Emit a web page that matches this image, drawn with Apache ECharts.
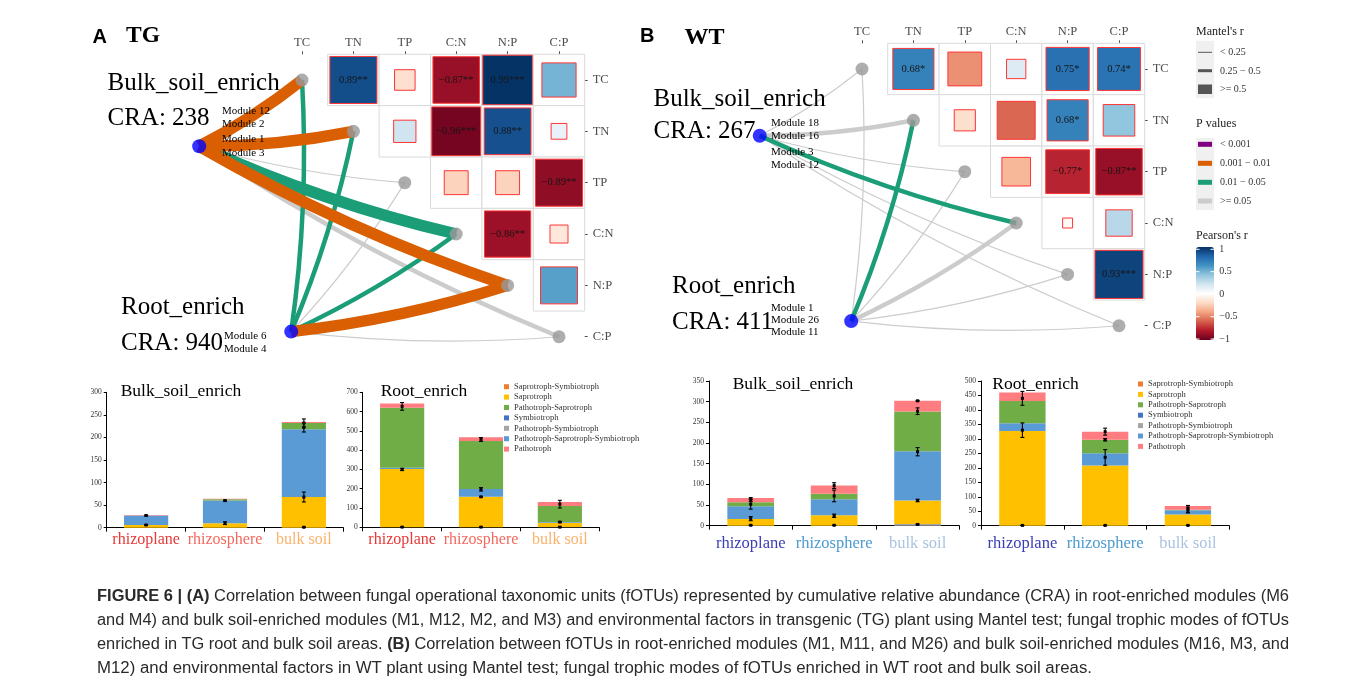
<!DOCTYPE html>
<html><head><meta charset="utf-8">
<script src="https://cdn.jsdelivr.net/npm/echarts@6.0.0/dist/echarts.min.js"></script>
<style>
html,body{margin:0;padding:0;background:#fff;}
#chart{position:absolute;left:0;top:0;width:1357px;height:695px;}
.cap{position:absolute;left:97px;white-space:nowrap;font-family:"Liberation Sans",Arial,sans-serif;font-size:16px;color:#2a2a2a;transform-origin:0 50%;line-height:20px;}
</style></head><body>
<div id="chart"></div>
<div id="caption"></div>
<script>
// ---------------- DATA ----------------
const factors = ['TC','TN','TP','C:N','N:P','C:P'];
// Pearson's r between environmental factors: [row, column, r, significance]
const pearsonTG = [
  ['TC','TN',0.89,'**'], ['TC','TP',-0.17,''], ['TC','C:N',-0.87,'**'], ['TC','N:P',0.99,'***'], ['TC','C:P',0.47,''],
  ['TN','TP',0.20,''], ['TN','C:N',-0.96,'***'], ['TN','N:P',0.88,'**'], ['TN','C:P',0.10,''],
  ['TP','C:N',-0.23,''], ['TP','N:P',-0.23,''], ['TP','C:P',-0.89,'**'],
  ['C:N','N:P',-0.86,'**'], ['C:N','C:P',-0.13,''],
  ['N:P','C:P',0.55,'']
];
const pearsonWT = [
  ['TC','TN',0.68,'*'], ['TC','TP',-0.46,''], ['TC','C:N',0.15,''], ['TC','N:P',0.75,'*'], ['TC','C:P',0.74,'*'],
  ['TN','TP',-0.18,''], ['TN','C:N',-0.58,''], ['TN','N:P',0.68,'*'], ['TN','C:P',0.40,''],
  ['TP','C:N',-0.33,''], ['TP','N:P',-0.77,'*'], ['TP','C:P',-0.87,'**'],
  ['C:N','N:P',-0.04,''], ['C:N','C:P',0.28,''],
  ['N:P','C:P',0.93,'***']
];
// Mantel test: [module group, factor, Mantel's r, p value]
const mantelTG = [
  ['Bulk_soil_enrich','TC',0.56,0.004], ['Bulk_soil_enrich','TN',0.55,0.006], ['Bulk_soil_enrich','TP',0.12,0.30],
  ['Bulk_soil_enrich','C:N',0.58,0.02], ['Bulk_soil_enrich','N:P',0.57,0.005], ['Bulk_soil_enrich','C:P',0.32,0.08],
  ['Root_enrich','TC',0.35,0.03], ['Root_enrich','TN',0.34,0.04], ['Root_enrich','TP',0.10,0.45],
  ['Root_enrich','C:N',0.36,0.02], ['Root_enrich','N:P',0.60,0.003], ['Root_enrich','C:P',0.08,0.60]
];
const mantelWT = [
  ['Bulk_soil_enrich','TC',0.10,0.40], ['Bulk_soil_enrich','TN',0.30,0.08], ['Bulk_soil_enrich','TP',0.10,0.50],
  ['Bulk_soil_enrich','C:N',0.35,0.03], ['Bulk_soil_enrich','N:P',0.06,0.70], ['Bulk_soil_enrich','C:P',0.08,0.60],
  ['Root_enrich','TC',0.10,0.50], ['Root_enrich','TN',0.38,0.02], ['Root_enrich','TP',0.10,0.40],
  ['Root_enrich','C:N',0.32,0.10], ['Root_enrich','N:P',0.12,0.30], ['Root_enrich','C:P',0.05,0.70]
];
const groupsTG = [
  {name:'Bulk_soil_enrich', cra:238, modules:['Module 12','Module 2','Module 1','Module 3']},
  {name:'Root_enrich', cra:940, modules:['Module 6','Module 4']}
];
const groupsWT = [
  {name:'Bulk_soil_enrich', cra:267, modules:['Module 18','Module 16','Module 3','Module 12']},
  {name:'Root_enrich', cra:411, modules:['Module 1','Module 26','Module 11']}
];
const sites = ['rhizoplane','rhizosphere','bulk soil'];
const trophicModes = ['Saprotroph-Symbiotroph','Saprotroph','Pathotroph-Saprotroph','Symbiotroph','Pathotroph-Symbiotroph','Pathotroph-Saprotroph-Symbiotroph','Pathotroph'];
// values per trophic mode (same order as trophicModes), per site
const tgBulkValues = [[0,0,0],[6,10,68],[0,3,14],[0,0,0],[0,0,0],[21,50,150],[1,1,2]];
const tgRootValues = [[0,0,0],[302,158,22],[311,249,82],[0,0,0],[0,0,2],[7,40,4],[22,20,21]];
const wtBulkValues = [[0,0,0],[16,25,57],[10,13,96],[0,0,0],[0,0,4],[31,39,119],[10,20,26]];
const wtRootValues = [[0,0,0],[327,208,39],[77,47,2],[0,0,0],[0,0,0],[27,42,14],[29,28,13]];
// error bars: [site index, centre, half-width]
const tgBulkErrors = [[0,6,1],[0,27,1],[1,10,3],[1,60,1],[2,1,0.5],[2,68,11],[2,222,10],[2,232,9]];
const tgRootErrors = [[0,1,0],[0,300,6],[0,627,20],[1,1,0],[1,158,2],[1,197,9],[1,455,10],[2,1,0],[2,27,2],[2,120,20]];
const wtBulkErrors = [[0,1,0],[0,17,5],[0,52,12],[0,63,5],[1,1,0],[1,24,4],[1,72,14],[1,97,7],[2,3,1],[2,61,3],[2,179,10],[2,277,8],[2,302,1]];
const wtRootErrors = [[0,1,0],[0,330,25],[0,440,24],[1,1,0],[1,236,27],[1,297,4],[1,325,12],[2,1,0],[2,54,10],[2,58,12]];
const yTicksPearson = ['1','0.5','0','\u22120.5','\u22121'];

// ---------------- LAYOUT / STYLE ----------------
const SERIF = '"Liberation Serif", "Times New Roman", serif';
const nodePosTG = {'Bulk_soil_enrich':[-2.0,1.29], 'Root_enrich':[-0.21,4.9]};
const nodePosWT = {'Bulk_soil_enrich':[-1.99,1.30], 'Root_enrich':[-0.21,4.91]};
const RdBu = ['#67001f','#b2182b','#d6604d','#f4a582','#fddbc7','#ffffff','#d1e5f0','#92c5de','#4393c3','#2166ac','#053061'];
const modeColors = ['#ED7D31','#FFC000','#70AD47','#4472C4','#A5A5A5','#5B9BD5','#FF7C80'];
const stackOrder = [4,1,3,5,2,6,0];
const pColors = ['#800080','#d95f02','#1b9e77','#cccccc'];
function pColor(p){ return p<0.001?pColors[0]:p<0.01?pColors[1]:p<0.05?pColors[2]:pColors[3]; }
function rWidth(r){ return r<0.25?1.2:r<0.5?4.5:11.5; }
function fmt(r){ return (r<0?'\u2212':'') + Math.abs(r).toFixed(2); }

const chart = echarts.init(document.getElementById('chart'), null, {renderer:'canvas'});

const grids = [
  {left:276.3, top:54.3, width:308.4, height:308.1},   // 0 heat TG
  {left:70.7, top:54.3, width:514, height:308.1},      // 1 net TG
  {left:836.3, top:43.3, width:308.4, height:308.1},   // 2 heat WT
  {left:630.7, top:43.3, width:514, height:308.1},     // 3 net WT
  {left:106.7, top:392.3, width:236.6, height:135.4},  // 4 bar TG bulk
  {left:362.7, top:392.3, width:236.6, height:135},    // 5 bar TG root
  {left:709, top:381, width:250.3, height:144.7},      // 6 bar WT bulk
  {left:981, top:381, width:248.3, height:144.7}       // 7 bar WT root
];
const xAxes = [], yAxes = [];
function heatAxes(g){
  xAxes.push({gridIndex:g, type:'category', data:factors, position:'top',
    axisLine:{show:false}, axisTick:{show:true, length:3, alignWithLabel:true, lineStyle:{color:'#4d4d4d'}},
    axisLabel:{margin:5, interval:0, fontFamily:SERIF, fontSize:12.5, color:'#4d4d4d'}});
  yAxes.push({gridIndex:g, type:'category', data:factors, position:'right', inverse:true,
    axisLine:{show:false}, axisTick:{show:true, length:3, alignWithLabel:true, lineStyle:{color:'#4d4d4d'}},
    axisLabel:{margin:8, interval:0, fontFamily:SERIF, fontSize:12.5, color:'#4d4d4d'}});
}
function netAxes(g){
  xAxes.push({gridIndex:g, type:'value', min:-4.5, max:5.5, show:false});
  yAxes.push({gridIndex:g, type:'value', min:-0.5, max:5.5, inverse:true, show:false});
}
function barAxes(g, max, interval, colors, labMargin, fs){
  xAxes.push({gridIndex:g, type:'category', data:sites,
    axisLine:{lineStyle:{color:'#000', width:1}}, axisTick:{show:true, length:4, lineStyle:{color:'#000'}},
    axisLabel:{margin:labMargin, interval:0, hideOverlap:false, fontFamily:SERIF, fontSize:fs,
      color:(v,i)=>colors[sites.indexOf(v)]}});
  yAxes.push({gridIndex:g, type:'value', min:0, max:max, interval:interval,
    axisLine:{show:true, lineStyle:{color:'#000', width:1}}, axisTick:{show:true, length:3, lineStyle:{color:'#000'}},
    splitLine:{show:false}, axisLabel:{margin:5, fontFamily:SERIF, fontSize:7.5, color:'#333'}});
}
heatAxes(0); netAxes(1); heatAxes(2); netAxes(3);
const colA = ['#e53935','#f26a5f','#f9b26b'];
const colB = ['#3a3db3','#4b9bd0','#a9c3e0'];
barAxes(4, 300, 50, colA, 4, 16); barAxes(5, 700, 100, colA, 4, 16);
barAxes(6, 350, 50, colB, 9, 16.5); barAxes(7, 500, 50, colB, 9, 16.5);

const series = [];
function heatSeries(arr, ai){
  series.push({type:'custom', xAxisIndex:ai, yAxisIndex:ai, z:3, silent:true,
    data: arr.map(d => [factors.indexOf(d[1]), factors.indexOf(d[0]), d[2]]),
    encode:{x:0, y:1},
    renderItem(params, api){
      const r = api.value(2);
      const c = api.coord([api.value(0), api.value(1)]);
      const s = api.size([1,1]);
      const w = s[0], h = s[1];
      const side = w * Math.sqrt(Math.abs(r)) * 0.97;
      const st = arr[params.dataIndex][3];
      const ch = [
        {type:'rect', shape:{x:c[0]-w/2, y:c[1]-h/2, width:w, height:h}, style:{fill:'#fff', stroke:'#dadada', lineWidth:1}},
        {type:'rect', shape:{x:c[0]-side/2, y:c[1]-side/2, width:side, height:side}, style:{fill:api.visual('color'), stroke:'#ff3535', lineWidth:1}}
      ];
      if (st) ch.push({type:'text', x:c[0], y:c[1], style:{text:fmt(r)+st, align:'center', verticalAlign:'middle', textAlign:'center', textVerticalAlign:'middle', font:'10.5px ' + SERIF, fill:'#151515'}});
      return {type:'group', children:ch};
    }});
  return series.length - 1;
}
function netSeries(mantel, groups, pos, ai){
  const sorted = mantel.slice().sort((a,b)=>b[3]-a[3]);
  series.push({type:'lines', coordinateSystem:'cartesian2d', xAxisIndex:ai, yAxisIndex:ai, z:2, silent:true,
    data: sorted.map(d => { const fi = factors.indexOf(d[1]);
      return {coords:[pos[d[0]], [fi, fi]], lineStyle:{width:rWidth(d[2]), color:pColor(d[3]), curveness:-0.05, opacity:1}}; })});
  series.push({type:'scatter', xAxisIndex:ai, yAxisIndex:ai, z:4, silent:true, symbolSize:13,
    itemStyle:{color:'#999999'}, data: factors.map((f,i)=>[i,i])});
  series.push({type:'scatter', xAxisIndex:ai, yAxisIndex:ai, z:5, silent:true, symbolSize:14,
    itemStyle:{color:'#0000ff'}, data: groups.map(g => pos[g.name])});
}
function barSeries(values, errors, ai, stackId){
  stackOrder.forEach(k => series.push({type:'bar', name:trophicModes[k], xAxisIndex:ai, yAxisIndex:ai,
    stack:stackId, data:values[k], barWidth:'56%', silent:true, itemStyle:{color:modeColors[k]}}));
  series.push({type:'custom', xAxisIndex:ai, yAxisIndex:ai, z:10, silent:true, data:errors, encode:{x:0, y:1},
    renderItem(params, api){
      const cat = api.value(0), m = api.value(1), e = api.value(2);
      const t = api.coord([cat, m+e]), b = api.coord([cat, m-e]), c = api.coord([cat, m]);
      const x = c[0];
      const ls = {stroke:'#000', lineWidth:1.1};
      return {type:'group', children:[
        {type:'line', shape:{x1:x, y1:t[1], x2:x, y2:b[1]}, style:ls},
        {type:'line', shape:{x1:x-2, y1:t[1], x2:x+2, y2:t[1]}, style:ls},
        {type:'line', shape:{x1:x-2, y1:b[1], x2:x+2, y2:b[1]}, style:ls},
        {type:'rect', shape:{x:x-1.5, y:c[1]-1.5, width:3, height:3}, style:{fill:'#000'}}
      ]};
    }});
}
const heatIdxA = heatSeries(pearsonTG, 0);
netSeries(mantelTG, groupsTG, nodePosTG, 1);
const heatIdxB = heatSeries(pearsonWT, 2);
netSeries(mantelWT, groupsWT, nodePosWT, 3);
barSeries(tgBulkValues, tgBulkErrors, 4, 'tgb');
barSeries(tgRootValues, tgRootErrors, 5, 'tgr');
barSeries(wtBulkValues, wtBulkErrors, 6, 'wtb');
barSeries(wtRootValues, wtRootErrors, 7, 'wtr');

// ---------------- TEXT & LEGEND GRAPHICS ----------------
const G = [];
function txt(x, y, text, font, fill, align){
  G.push({type:'text', x:x, y:y, z:50, silent:true, style:{text:text, font:font, fill:fill||'#000',
    align:align||'left', verticalAlign:'middle', textAlign:align||'left', textVerticalAlign:'middle'}});
}
function rect(x, y, w, h, fill){ G.push({type:'rect', z:40, silent:true, shape:{x:x, y:y, width:w, height:h}, style:{fill:fill}}); }
const big = '25px ' + SERIF, small = '11px ' + SERIF;
txt(92.5, 37, 'A', 'bold 20px "Liberation Sans", Arial, sans-serif');
txt(126, 35.5, 'TG', 'bold 23.5px ' + SERIF);
txt(640, 36, 'B', 'bold 20px "Liberation Sans", Arial, sans-serif');
txt(684.6, 37.5, 'WT', 'bold 24px ' + SERIF);
// group labels
const labA = [{nx:107.5, ny:83, cy:118.5, mx:222, my:[110.7,124.3,139,152.7]},
              {nx:121, ny:307, cy:343.5, mx:224, my:[335.7,349]}];
const labB = [{nx:653.5, ny:99, cy:131.5, mx:771, my:[123.3,136,152,164.7]},
              {nx:672, ny:286, cy:322, mx:771, my:[307.7,320,332.3]}];
[[groupsTG, labA],[groupsWT, labB]].forEach(([groups, lab]) => {
  groups.forEach((g, i) => {
    const L = lab[i];
    txt(L.nx, L.ny, g.name, big);
    txt(L.nx, L.cy, 'CRA: ' + g.cra, big);
    g.modules.forEach((m, j) => txt(L.mx, L.my[j], m, small));
  });
});
// bar chart titles
txt(120.7, 391, 'Bulk_soil_enrich', '17.5px ' + SERIF);
txt(380.7, 391, 'Root_enrich', '17.5px ' + SERIF);
txt(732.7, 384.5, 'Bulk_soil_enrich', '17.5px ' + SERIF);
txt(992.3, 384.5, 'Root_enrich', '17.5px ' + SERIF);
// Mantel's r legend
const lf = '10px ' + SERIF, hf = '12px ' + SERIF;
txt(1196, 32, "Mantel's r", hf, '#222');
rect(1196, 40.7, 18, 57.6, '#f0f0f0');
rect(1198, 51.8, 14, 1, '#555'); rect(1198, 69.2, 14, 3, '#555'); rect(1198, 84.5, 14, 9.5, '#555');
txt(1220, 52.5, '< 0.25', lf, '#333'); txt(1220, 71, '0.25 \u2212 0.5', lf, '#333'); txt(1220, 89.5, '>= 0.5', lf, '#333');
// P values legend
txt(1196, 123.5, 'P values', hf, '#222');
rect(1196, 138, 18, 72, '#f0f0f0');
const pLabels = ['< 0.001','0.001 \u2212 0.01','0.01 \u2212 0.05','>= 0.05'];
[144.3,163.3,182.3,201].forEach((y, i) => { rect(1198, y-2.5, 14, 5, pColors[i]); txt(1220, y+0.5, pLabels[i], lf, '#333'); });
// Pearson's r legend
txt(1196, 235.5, "Pearson's r", hf, '#222');
[249.3,271.7,294,316.7,339].forEach((y, i) => {
  txt(1219.3, y, yTicksPearson[i], lf, '#333');
  G.push({type:'line', silent:true, z:100, shape:{x1:1196, y1:y, x2:1199.5, y2:y}, style:{stroke:'#fff', lineWidth:1}});
  G.push({type:'line', silent:true, z:100, shape:{x1:1210.5, y1:y, x2:1214, y2:y}, style:{stroke:'#fff', lineWidth:1}});
});

const legendBase = {orient:'vertical', icon:'rect', itemWidth:5, itemHeight:5, itemGap:0, padding:0,
  selectedMode:false, data:trophicModes,
  textStyle:{fontFamily:SERIF, fontSize:8.5, color:'#333', lineHeight:10.4}};

chart.setOption({
  animation:false,
  textStyle:{fontFamily:SERIF},
  grid:grids, xAxis:xAxes, yAxis:yAxes, series:series,
  visualMap:{type:'continuous', min:-1, max:1, dimension:2, seriesIndex:[heatIdxA, heatIdxB],
    inRange:{color:RdBu}, calculable:false, show:true, left:1191, top:242, padding:5,
    itemWidth:18, itemHeight:93, orient:'vertical', hoverLink:false},
  legend:[Object.assign({left:504, top:381.5}, legendBase), Object.assign({left:1138, top:378.8}, legendBase)],
  graphic:{elements:G}
});

// ---------------- CAPTION ----------------
const captionLines = [
  ['<b>FIGURE 6 | (A)</b> Correlation between fungal operational taxonomic units (fOTUs) represented by cumulative relative abundance (CRA) in root-enriched modules (M6', 596, 1192],
  ['and M4) and bulk soil-enriched modules (M1, M12, M2, and M3) and environmental factors in transgenic (TG) plant using Mantel test; fungal trophic modes of fOTUs', 620, 1192],
  ['enriched in TG root and bulk soil areas. <b>(B)</b> Correlation between fOTUs in root-enriched modules (M1, M11, and M26) and bulk soil-enriched modules (M16, M3, and', 644, 1192],
  ['M12) and environmental factors in WT plant using Mantel test; fungal trophic modes of fOTUs enriched in WT root and bulk soil areas.', 667.5, 995]
];
const cap = document.getElementById('caption');
captionLines.forEach(([html, y, w]) => {
  const d = document.createElement('div');
  d.className = 'cap'; d.innerHTML = html; d.style.top = (y - 10) + 'px';
  cap.appendChild(d);
  const natural = d.getBoundingClientRect().width;
  d.style.transform = 'scaleX(' + (w / natural) + ')';
});
</script>
</body></html>
